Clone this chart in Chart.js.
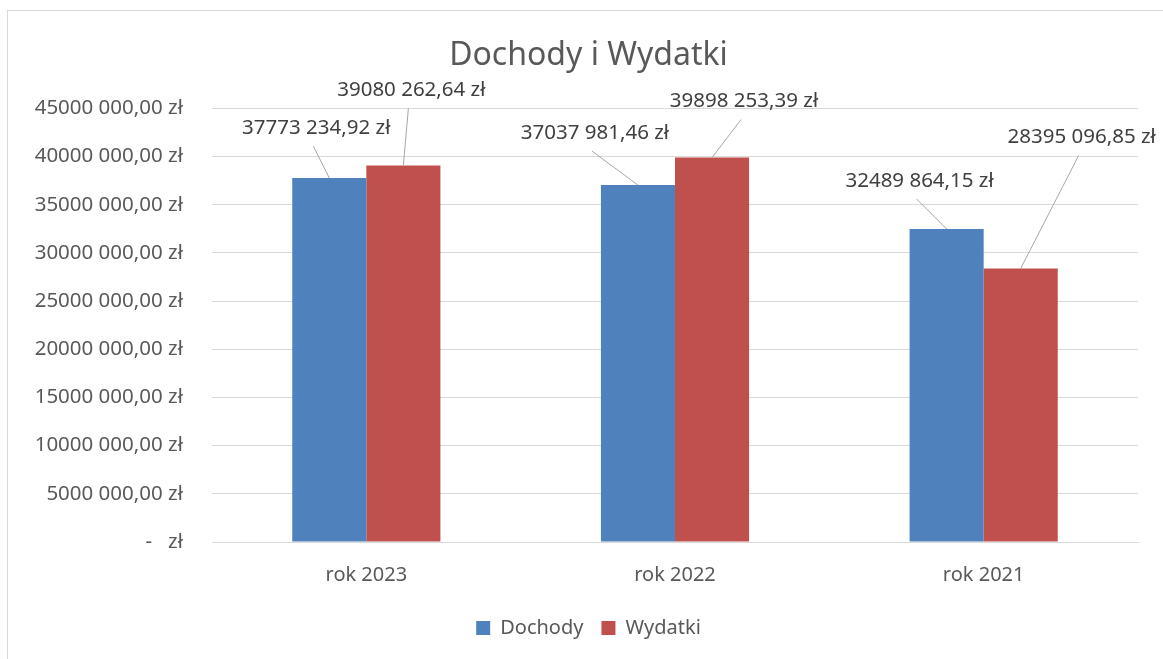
<!DOCTYPE html>
<html>
<head>
<meta charset="utf-8">
<script src="https://cdn.jsdelivr.net/npm/chart.js@4/dist/chart.umd.min.js"></script>
<style>
  html, body { margin: 0; padding: 0; background: #fff; }
  #wrap { position: relative; width: 1163px; height: 659px; overflow: hidden; }
  #frame { position: absolute; left: 7px; top: 10px; width: 1200px; height: 700px; border-left: 1px solid #d9d9d9; border-top: 1px solid #d9d9d9; box-sizing: border-box; }
  canvas { position: absolute; left: 0; top: 0; }
</style>
</head>
<body>
<div id="wrap">
  <div id="frame"></div>
  <canvas id="c" width="1163" height="659"></canvas>
</div>
<script>
const categories = ["rok 2023", "rok 2022", "rok 2021"];
const seriesNames = ["Dochody", "Wydatki"];
const dochody = [37773234.92, 37037981.46, 32489864.15];
const wydatki = [39080262.64, 39898253.39, 28395096.85];
const yMin = 0;
const yMax = 45000000;
const yStep = 5000000;

// label placement (pixel offsets from top-center of each bar), layout only
const labelOffsets = [
  [[-13, -50], [-43, -52], [-27, -48]],
  [[8, -75], [32, -56], [61, -131]]
];

const FONT = "'Noto Sans', 'Open Sans', sans-serif";
const TXT = '#595959';

function fmtPLN(v) {
  if (v === 0) return '-   zł';
  const neg = v < 0; v = Math.abs(v);
  const fixed = v.toFixed(2);
  let [intPart, dec] = fixed.split('.');
  const n = parseInt(intPart, 10);
  let s;
  if (n >= 1000) {
    const hi = Math.floor(n / 1000);
    const lo = String(n % 1000).padStart(3, '0');
    s = hi + ' ' + lo;
  } else s = String(n);
  return (neg ? '-' : '') + s + ',' + dec + ' zł';
}

const labelPlugin = {
  id: 'leaderLabels',
  afterDatasetsDraw(chart) {
    const ctx = chart.ctx;
    ctx.save();
    chart.data.datasets.forEach((ds, di) => {
      const meta = chart.getDatasetMeta(di);
      meta.data.forEach((bar, i) => {
        const off = labelOffsets[di][i];
        const lx = bar.x + off[0];
        const ly = bar.y + off[1];
        ctx.strokeStyle = '#a6a6a6';
        ctx.lineWidth = 1;
        ctx.beginPath();
        ctx.moveTo(lx - 3, ly + 18);
        ctx.lineTo(bar.x, bar.y);
        ctx.stroke();
        ctx.fillStyle = '#404040';
        ctx.font = '20.5px ' + FONT;
        ctx.textAlign = 'center';
        ctx.textBaseline = 'middle';
        ctx.fillText(fmtPLN(ds.data[i]), lx, ly);
      });
    });
    ctx.restore();
  }
};

new Chart(document.getElementById('c'), {
  type: 'bar',
  data: {
    labels: categories,
    datasets: [
      { label: seriesNames[0], data: dochody, backgroundColor: '#4f81bd', borderWidth: 0 },
      { label: seriesNames[1], data: wydatki, backgroundColor: '#c0504d', borderWidth: 0 }
    ]
  },
  options: {
    responsive: false,
    animation: false,
    layout: { padding: { left: 14, right: 0, top: 0, bottom: 11 } },
    datasets: { bar: { categoryPercentage: 0.48, barPercentage: 1.0 } },
    plugins: {
      title: {
        display: true,
        text: 'Dochody i Wydatki',
        color: TXT,
        font: { family: FONT, size: 32, weight: 'normal' },
        padding: { top: 37, bottom: 33 }
      },
      legend: {
        position: 'bottom',
        labels: {
          color: TXT,
          font: { family: FONT, size: 20 },
          boxWidth: 14, boxHeight: 14,
          padding: 18
        }
      },
      tooltip: { enabled: false }
    },
    scales: {
      x: {
        grid: { display: false, drawTicks: false },
        border: { display: true, color: '#d9d9d9' },
        ticks: { color: TXT, font: { family: FONT, size: 20 }, padding: 21 },
        afterFit(s) { s.height = 58; }
      },
      y: {
        min: yMin, max: yMax,
        grid: { color: '#d9d9d9', drawTicks: false },
        border: { display: false },
        ticks: {
          stepSize: yStep,
          color: TXT,
          font: { family: FONT, size: 20.5 },
          padding: 29,
          callback: (v) => fmtPLN(v)
        },
        afterFit(s) { s.width = 198; }
      },
      yRightSpace: {
        position: 'right',
        display: true,
        grid: { display: false, drawTicks: false },
        border: { display: false },
        ticks: { display: false },
        afterFit(s) { s.width = 25; }
      }
    }
  },
  plugins: [labelPlugin]
});
</script>
</body>
</html>
